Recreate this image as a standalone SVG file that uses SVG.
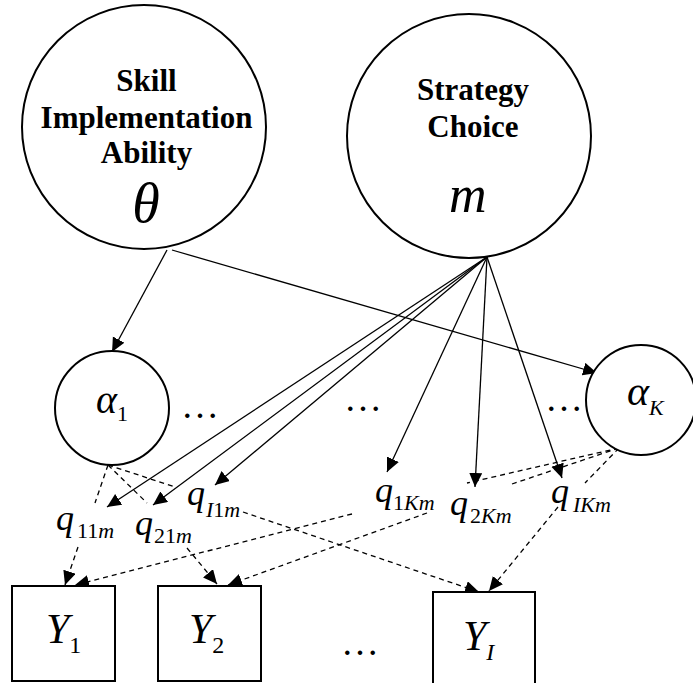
<svg xmlns="http://www.w3.org/2000/svg" width="693" height="683" viewBox="0 0 693 683" font-family="Liberation Serif, Times New Roman, serif">
<style>
.node{fill:#fff;stroke:#000;stroke-width:2}
.bold{font-family:'Liberation Serif','Times New Roman',serif;font-weight:bold;font-size:31px;text-anchor:middle}
.math{font-family:'Liberation Serif','Times New Roman',serif;font-style:italic}
.up{font-style:normal}
.dots{font-family:'Liberation Serif','Times New Roman',serif;font-size:38px;text-anchor:middle}
.solid{stroke:#000;stroke-width:1.3;fill:none;marker-end:url(#ah)}
.dash{stroke:#000;stroke-width:1.3;fill:none;stroke-dasharray:5,4}
.dasha{stroke:#000;stroke-width:1.3;fill:none;stroke-dasharray:5,4;marker-end:url(#ah)}
</style>
<defs>
<marker id="ah" markerUnits="userSpaceOnUse" markerWidth="16" markerHeight="14" refX="14" refY="6.5" orient="auto">
<path d="M0,0 L14,6.5 L0,13 z" fill="#000"/>
</marker>
</defs>
<rect width="693" height="683" fill="#fff"/>
<g id="connectors">
<line class="solid" x1="167" y1="250" x2="112" y2="352"/>
<line class="solid" x1="172" y1="250" x2="597" y2="373"/>
<line class="solid" x1="487" y1="257" x2="107" y2="507"/>
<line class="solid" x1="487" y1="257" x2="153" y2="505"/>
<line class="solid" x1="487" y1="257" x2="215" y2="485"/>
<line class="solid" x1="487" y1="257" x2="387" y2="472"/>
<line class="solid" x1="487" y1="257" x2="475" y2="487"/>
<line class="solid" x1="487" y1="257" x2="562" y2="478"/>
<line class="dash" x1="108" y1="465" x2="95" y2="503"/>
<line class="dash" x1="108" y1="465" x2="147" y2="503"/>
<line class="dash" x1="108" y1="465" x2="175" y2="487"/>
<line class="dash" x1="619" y1="448" x2="467" y2="483"/>
<line class="dash" x1="619" y1="448" x2="512" y2="484"/>
<line class="dash" x1="619" y1="448" x2="585" y2="483"/>
<line class="dasha" x1="78" y1="547" x2="65" y2="585"/>
<line class="dasha" x1="352" y1="514" x2="75" y2="585"/>
<line class="dasha" x1="187" y1="548" x2="217" y2="584"/>
<line class="dasha" x1="427" y1="513" x2="228" y2="585"/>
<line class="dasha" x1="243" y1="512" x2="479" y2="592"/>
<line class="dasha" x1="558" y1="507" x2="489" y2="591"/>
</g>
<g id="theta">
<circle class="node" cx="144" cy="127" r="122"/>
<text class="bold" x="146.5" y="91">Skill</text>
<text class="bold" x="146.5" y="128">Implementation</text>
<text class="bold" x="146.5" y="163">Ability</text>
<text class="math" x="146" y="222" font-size="56" text-anchor="middle">θ</text>
</g>
<g id="strategy">
<circle class="node" cx="469" cy="136" r="122"/>
<text class="bold" x="473" y="100">Strategy</text>
<text class="bold" x="473" y="137">Choice</text>
<text class="math" x="449" y="212" font-size="52">m</text>
</g>
<g id="alpha1">
<circle class="node" cx="112" cy="408" r="57"/>
<text class="math" x="96" y="413" font-size="40">α<tspan class="up" font-size="22" dy="8">1</tspan></text>
</g>
<g id="alphaK">
<circle class="node" cx="641" cy="400" r="55"/>
<text class="math" x="627" y="405" font-size="42">α<tspan font-size="22" dy="10">K</tspan></text>
</g>
<g id="dots">
<text class="dots" x="200" y="418">…</text>
<text class="dots" x="363" y="411">…</text>
<text class="dots" x="564" y="411">…</text>
<text class="dots" x="360" y="655">…</text>
</g>
<g id="q11m"><text class="math" x="56" y="530" font-size="36">q<tspan font-size="22" dx="3" dy="8"><tspan class="up">11</tspan>m</tspan></text></g>
<g id="q21m"><text class="math" x="135" y="535" font-size="36">q<tspan font-size="22" dx="1" dy="8"><tspan class="up">21</tspan>m</tspan></text></g>
<g id="qI1m"><text class="math" x="187" y="505" font-size="36">q<tspan font-size="22" dx="1" dy="12">I<tspan class="up">1</tspan>m</tspan></text></g>
<g id="q1Km"><text class="math" x="375" y="502" font-size="36">q<tspan font-size="22" dy="8"><tspan class="up">1</tspan>Km</tspan></text></g>
<g id="q2Km"><text class="math" x="450" y="515" font-size="36">q<tspan font-size="22" dx="2" dy="8"><tspan class="up">2</tspan>Km</tspan></text></g>
<g id="qIKm"><text class="math" x="551" y="503" font-size="36">q<tspan font-size="22" dx="4" dy="9">IKm</tspan></text></g>
<g id="Y1">
<rect class="node" x="12" y="586" width="103" height="95"/>
<text class="math" x="46" y="643" font-size="42">Y<tspan class="up" font-size="24" dy="10">1</tspan></text>
</g>
<g id="Y2">
<rect class="node" x="158" y="586" width="103" height="95"/>
<text class="math" x="189" y="643" font-size="42">Y<tspan class="up" font-size="24" dy="10">2</tspan></text>
</g>
<g id="YI">
<rect class="node" x="433" y="592" width="102" height="100"/>
<text class="math" x="463" y="650" font-size="42">Y<tspan font-size="24" dy="10">I</tspan></text>
</g>
</svg>
